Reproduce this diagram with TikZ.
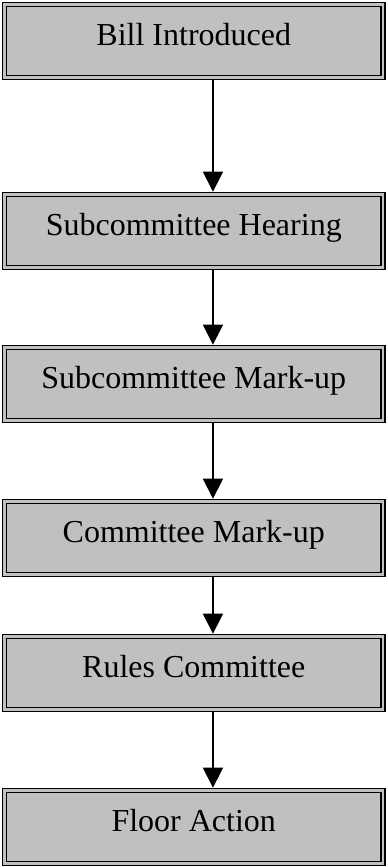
\documentclass[tikz,border=0pt]{standalone}
\usepackage{fontspec}
\setmainfont{Liberation Serif}
\usetikzlibrary{arrows.meta}
\definecolor{boxgray}{HTML}{C0C0C0}
\tikzset{
    stagebox/.style={draw=black, line width=0.8pt, double=boxgray, double distance=1.2pt,
        fill=boxgray, minimum width=189.25pt, inner xsep=0pt, inner ysep=0pt,
        text height=20.25pt, text depth=16.25pt, outer sep=1.4pt,
        font=\fontsize{16}{19}\selectfont},
    flow/.style={-{Triangle[width=10pt,length=10pt]}, line width=0.75pt}
}
\begin{document}
\begin{tikzpicture}[x=0.5pt, y=-0.5pt]
    \useasboundingbox (0,0) rectangle (387,867);

    % Stages of the bill
    \node[stagebox] (bill)     at (193.75, 41)  {Bill Introduced};
    \node[stagebox] (hearing)  at (193.75, 231) {Subcommittee Hearing};
    \node[stagebox] (submark)  at (193.75, 384) {Subcommittee Mark-up};
    \node[stagebox] (commark)  at (193.75, 538) {Committee Mark-up};
    \node[stagebox] (rules)    at (193.75, 673) {Rules Committee};
    \node[stagebox] (floor)    at (193.75, 827) {Floor Action};

    % Arrows between stages
    \draw[flow] ([xshift=9.6pt]bill.south)    -- ([xshift=9.6pt]hearing.north);
    \draw[flow] ([xshift=9.6pt]hearing.south) -- ([xshift=9.6pt]submark.north);
    \draw[flow] ([xshift=9.6pt]submark.south) -- ([xshift=9.6pt]commark.north);
    \draw[flow] ([xshift=9.6pt]commark.south) -- ([xshift=9.6pt]rules.north);
    \draw[flow] ([xshift=9.6pt]rules.south)   -- ([xshift=9.6pt]floor.north);
\end{tikzpicture}
\end{document}
